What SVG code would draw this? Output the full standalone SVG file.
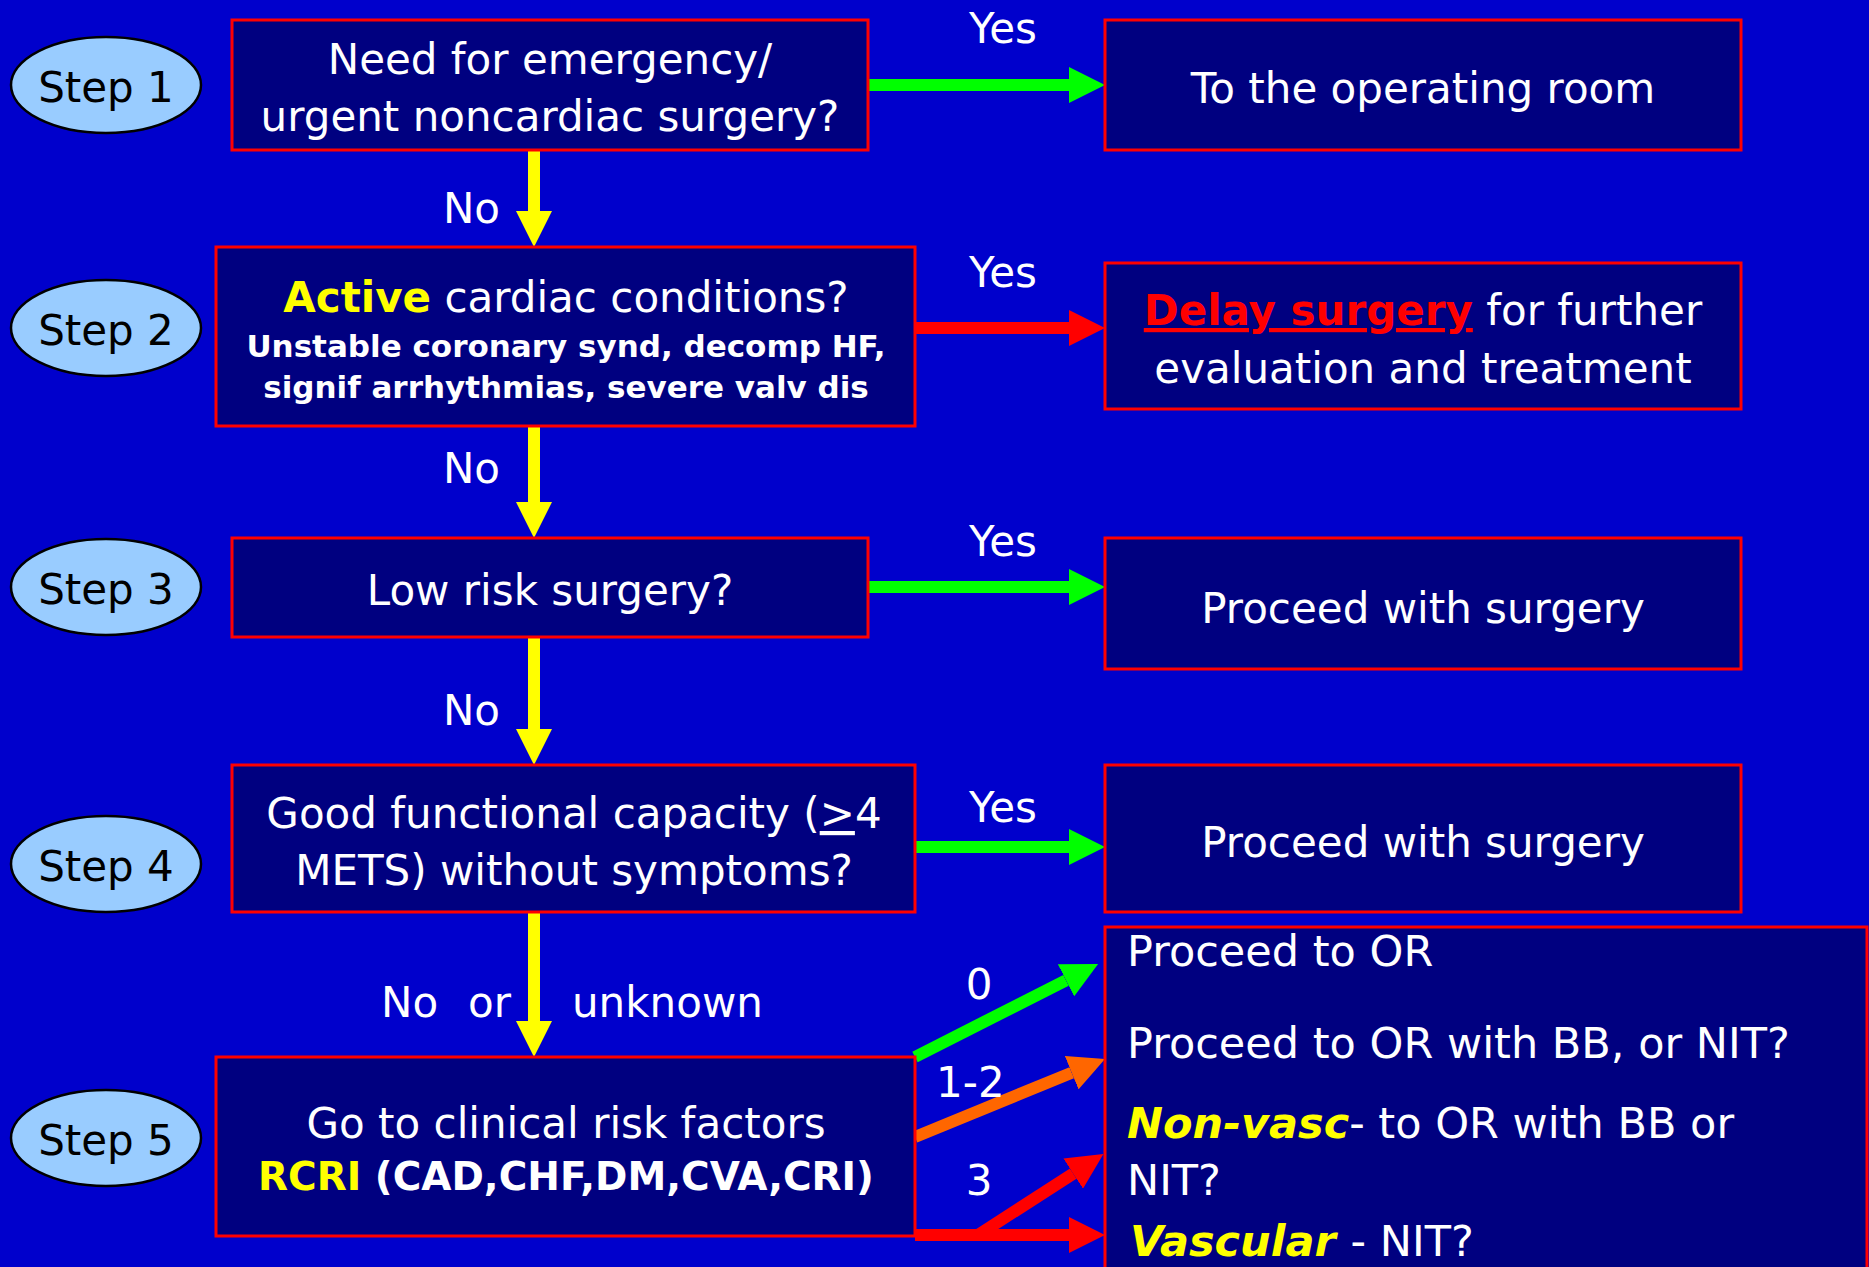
<svg xmlns="http://www.w3.org/2000/svg" width="1869" height="1267" viewBox="0 0 1869 1267">
<defs>
<style>
text{font-family:"DejaVu Sans","Liberation Sans",sans-serif;fill:#fff;font-size:42px}
.c{text-anchor:middle}
.b{font-weight:bold}
.bs{font-weight:bold;font-size:31px}
.y{fill:#ff0}
.step{fill:#000}
.box{fill:#000080;stroke:#f00;stroke-width:3}
.ell{fill:#99ccff;stroke:#000;stroke-width:2.5}
.ln{stroke-width:12;fill:none}
.g{stroke:#00ff00}.yl{stroke:#ffff00}.r{stroke:#ff0000}.o{stroke:#ff6600}
.bi{font-weight:bold;font-style:italic;fill:#ff0}
.r5 text{font-size:43px}
</style>
<marker id="hg" markerUnits="userSpaceOnUse" markerWidth="36" markerHeight="36" refX="0" refY="18" orient="auto"><path d="M0,0L36,18L0,36z" fill="#00ff00"/></marker>
<marker id="hy" markerUnits="userSpaceOnUse" markerWidth="36" markerHeight="36" refX="0" refY="18" orient="auto"><path d="M0,0L36,18L0,36z" fill="#ffff00"/></marker>
<marker id="hr" markerUnits="userSpaceOnUse" markerWidth="36" markerHeight="36" refX="0" refY="18" orient="auto"><path d="M0,0L36,18L0,36z" fill="#ff0000"/></marker>
<marker id="ho" markerUnits="userSpaceOnUse" markerWidth="36" markerHeight="36" refX="0" refY="18" orient="auto"><path d="M0,0L36,18L0,36z" fill="#ff6600"/></marker>
</defs>
<rect width="1869" height="1267" fill="#0000cc"/>

<g id="connectors">
<line class="ln yl" x1="534" y1="150" x2="534" y2="211" marker-end="url(#hy)"/>
<line class="ln yl" x1="534" y1="426" x2="534" y2="502" marker-end="url(#hy)"/>
<line class="ln yl" x1="534" y1="637" x2="534" y2="729" marker-end="url(#hy)"/>
<line class="ln yl" x1="534" y1="912" x2="534" y2="1021" marker-end="url(#hy)"/>
<line class="ln g" x1="868" y1="85" x2="1069" y2="85" marker-end="url(#hg)"/>
<line class="ln r" x1="915" y1="328" x2="1069" y2="328" marker-end="url(#hr)"/>
<line class="ln g" x1="868" y1="587" x2="1069" y2="587" marker-end="url(#hg)"/>
<line class="ln g" x1="915" y1="847" x2="1069" y2="847" marker-end="url(#hg)"/>
<line class="ln g" x1="915" y1="1057" x2="1066" y2="980.3" marker-end="url(#hg)"/>
<line class="ln o" x1="915" y1="1137" x2="1071.7" y2="1072.7" marker-end="url(#ho)"/>
<line class="ln r" x1="978" y1="1235" x2="1073.2" y2="1173.6" marker-end="url(#hr)"/>
<line class="ln r" x1="915" y1="1235" x2="1069" y2="1235" marker-end="url(#hr)"/>
<text x="500" y="223" style="text-anchor:end">No</text>
<text x="500" y="483" style="text-anchor:end">No</text>
<text x="500" y="725" style="text-anchor:end">No</text>
<text x="381" y="1017">No</text>
<text x="468" y="1017">or</text>
<text x="572" y="1017">unknown</text>
<text class="c" x="1003" y="43">Yes</text>
<text class="c" x="1003" y="287">Yes</text>
<text class="c" x="1003" y="556">Yes</text>
<text class="c" x="1003" y="822">Yes</text>
<text class="c" x="979" y="999">0</text>
<text x="936" y="1097">1-2</text>
<text class="c" x="979" y="1195">3</text>
</g>

<g id="step1"><ellipse class="ell" cx="106" cy="85" rx="95" ry="48"/><text class="c step" x="106" y="102">Step 1</text></g>
<g id="step2"><ellipse class="ell" cx="106" cy="328" rx="95" ry="48"/><text class="c step" x="106" y="345">Step 2</text></g>
<g id="step3"><ellipse class="ell" cx="106" cy="587" rx="95" ry="48"/><text class="c step" x="106" y="604">Step 3</text></g>
<g id="step4"><ellipse class="ell" cx="106" cy="864" rx="95" ry="48"/><text class="c step" x="106" y="881">Step 4</text></g>
<g id="step5"><ellipse class="ell" cx="106" cy="1138" rx="95" ry="48"/><text class="c step" x="106" y="1155">Step 5</text></g>

<g id="q1"><rect class="box" x="232" y="20" width="636" height="130"/>
<text class="c" x="550" y="74">Need for emergency/</text>
<text class="c" x="550" y="131">urgent noncardiac surgery?</text></g>

<g id="q2"><rect class="box" x="216" y="247" width="699" height="179"/>
<text class="c" x="566" y="312"><tspan class="b y">Active</tspan> cardiac conditions?</text>
<text class="c bs" x="566" y="357">Unstable coronary synd, decomp HF,</text>
<text class="c bs" x="566" y="398">signif arrhythmias, severe valv dis</text></g>

<g id="q3"><rect class="box" x="232" y="538" width="636" height="99"/>
<text class="c" x="550" y="605">Low risk surgery?</text></g>

<g id="q4"><rect class="box" x="232" y="765" width="683" height="147"/>
<text class="c" x="574" y="828">Good functional capacity (<tspan text-decoration="underline">&gt;</tspan>4</text>
<text class="c" x="574" y="885">METS) without symptoms?</text></g>

<g id="q5"><rect class="box" x="216" y="1057" width="699" height="179"/>
<text class="c" x="566" y="1138">Go to clinical risk factors</text>
<text class="c b" x="566" y="1190" style="font-size:39px"><tspan class="y">RCRI</tspan> (CAD,CHF,DM,CVA,CRI)</text></g>

<g id="r1"><rect class="box" x="1105" y="20" width="636" height="130"/>
<text class="c" x="1423" y="103">To the operating room</text></g>

<g id="r2"><rect class="box" x="1105" y="263" width="636" height="146"/>
<text class="c" x="1423" y="325"><tspan class="b" style="fill:#f00" text-decoration="underline">Delay surgery</tspan> for further</text>
<text class="c" x="1423" y="383">evaluation and treatment</text></g>

<g id="r3"><rect class="box" x="1105" y="538" width="636" height="131"/>
<text class="c" x="1423" y="623">Proceed with surgery</text></g>

<g id="r4"><rect class="box" x="1105" y="765" width="636" height="147"/>
<text class="c" x="1423" y="857">Proceed with surgery</text></g>

<g id="r5" class="r5"><rect class="box" x="1105" y="927" width="762" height="400"/>
<text x="1127" y="966">Proceed to OR</text>
<text x="1127" y="1058">Proceed to OR with BB, or NIT?</text>
<text x="1127" y="1138"><tspan class="bi">Non-vasc</tspan>- to OR with BB or</text>
<text x="1127" y="1195">NIT?</text>
<text x="1130" y="1256"><tspan class="bi">Vascular </tspan>- NIT?</text></g>
</svg>
